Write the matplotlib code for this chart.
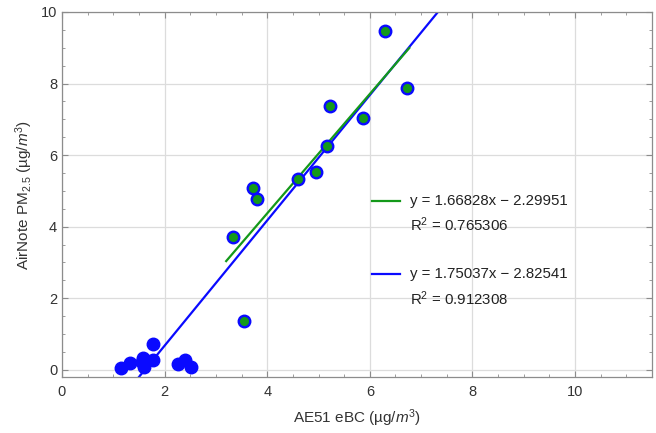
import numpy as np
import matplotlib
matplotlib.use("Agg")
from matplotlib import pyplot as plt
from matplotlib.ticker import MultipleLocator

plt.rcParams['font.family'] = ['Liberation Sans', 'DejaVu Sans']
plt.rcParams['mathtext.fontset'] = 'custom'
plt.rcParams['mathtext.rm'] = 'Liberation Sans'
plt.rcParams['mathtext.it'] = 'Liberation Sans:italic'

# green subset (higher concentrations)
green_x = [3.33, 3.55, 3.72, 3.81, 4.60, 4.95, 5.16, 5.22, 5.86, 6.30, 6.73]
green_y = [3.72, 1.36, 5.08, 4.78, 5.34, 5.54, 6.26, 7.37, 7.04, 9.48, 7.89]

# remaining low points (blue only)
blue_x = [1.15, 1.32, 1.55, 1.58, 1.60, 1.77, 1.77, 2.27, 2.39, 2.51]
blue_y = [0.06, 0.19, 0.23, 0.33, 0.09, 0.72, 0.28, 0.16, 0.28, 0.07]

# fits
green_fit = (1.66828, -2.29951, 0.765306)
blue_fit = (1.75037, -2.82541, 0.912308)
green_fit_range = [3.2, 6.77]
blue_fit_range = [0.0, 11.5]

BLUE = "#0a0aff"
GREEN = "#14991a"
GRAY = "#8c8c8c"

fig = plt.figure(figsize=(6.56, 4.33), dpi=100)
ax = fig.add_axes([62/656, 56/433, 590/656, 365/433])

all_x = blue_x + green_x
all_y = blue_y + green_y
ax.plot(all_x, all_y, 'o', color=BLUE, ms=9, mec=BLUE, zorder=3)
ax.plot(green_x, green_y, 'o', color=GREEN, ms=5.5, mec=GREEN, zorder=4)

bx = np.array(blue_fit_range)
ax.plot(bx, blue_fit[0] * bx + blue_fit[1], color=BLUE, lw=1.6, zorder=2)
gx = np.array(green_fit_range)
ax.plot(gx, green_fit[0] * gx + green_fit[1], color=GREEN, lw=1.6, zorder=2.5)

ax.set_xlim(0, 11.5)
ax.set_ylim(-0.2, 10)
ax.xaxis.set_major_locator(MultipleLocator(2))
ax.xaxis.set_minor_locator(MultipleLocator(0.5))
ax.yaxis.set_major_locator(MultipleLocator(2))
ax.yaxis.set_minor_locator(MultipleLocator(0.5))
ax.grid(True, which='major', color='#dcdcdc', lw=0.9, zorder=0)
ax.set_axisbelow(True)

for s in ax.spines.values():
    s.set_color(GRAY)
    s.set_linewidth(0.9)
ax.tick_params(which='both', direction='in', top=True, right=True,
               color=GRAY, labelsize=10.5, labelcolor='#333333')
ax.tick_params(which='major', length=4, width=0.8)
ax.tick_params(which='minor', length=2, width=0.6)
ax.tick_params(axis='x', which='major', pad=6)

ax.set_xlabel(r'AE51 eBC (µg/$\mathit{m}^3$)', fontsize=11, color='#333333', labelpad=6)
ax.set_ylabel(r'AirNote PM$_{2.5}$ (µg/$\mathit{m}^3$)', fontsize=11, color='#333333', labelpad=4)

# legend drawn by hand
entries = [(green_fit, GREEN, 0.483), (blue_fit, BLUE, 0.282)]
for (a, b, r2), col, yy in entries:
    ax.plot([0.525, 0.573], [yy, yy], color=col, lw=1.6, transform=ax.transAxes, clip_on=False)
    ax.text(0.59, yy, f"y = {a:.5f}x \u2212 {abs(b):.5f}", transform=ax.transAxes,
            fontsize=10.8, va='center', ha='left', color='#222222')
    ax.text(0.59, yy - 0.067, f"R$^2$ = {r2:g}", transform=ax.transAxes,
            fontsize=10.8, va='center', ha='left', color='#222222')

fig.savefig("out.png", dpi=100)
